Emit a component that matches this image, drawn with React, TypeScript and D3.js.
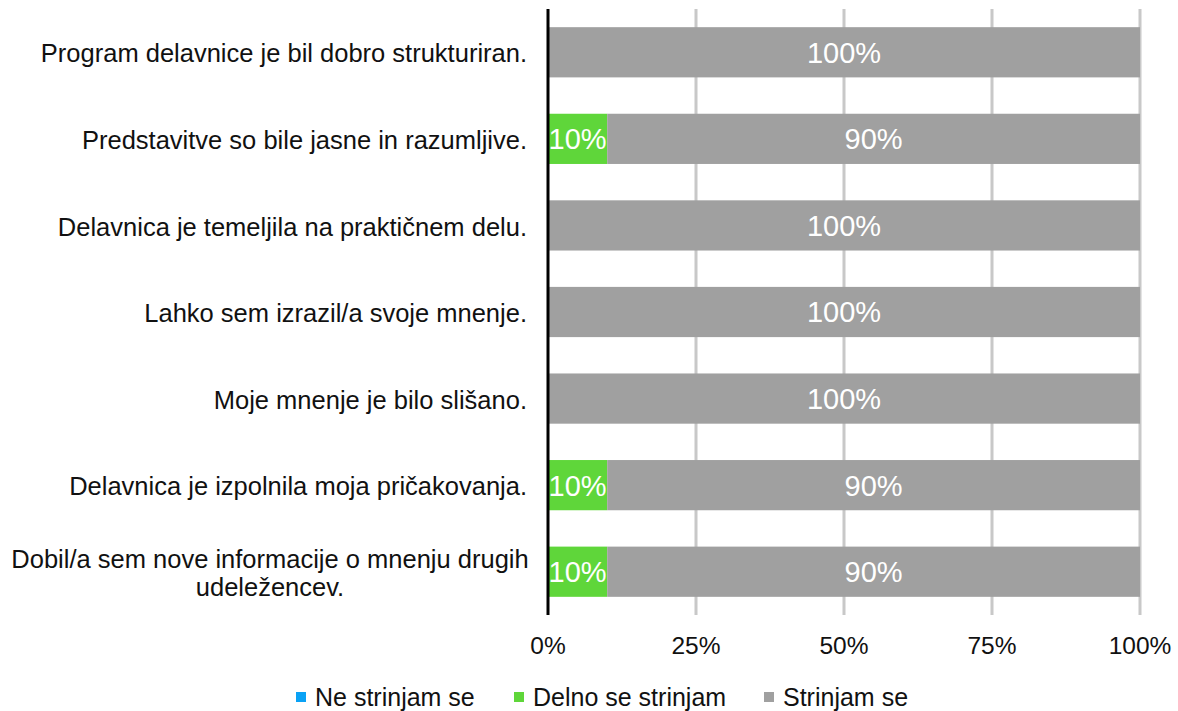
import * as d3 from "d3";

const categories = [
  "Program delavnice je bil dobro strukturiran.",
  "Predstavitve so bile jasne in razumljive.",
  "Delavnica je temeljila na praktičnem delu.",
  "Lahko sem izrazil/a svoje mnenje.",
  "Moje mnenje je bilo slišano.",
  "Delavnica je izpolnila moja pričakovanja.",
  "Dobil/a sem nove informacije o mnenju drugih udeležencev.",
];

// line breaks for the category labels
const categoryLines = [
  ["Program delavnice je bil dobro strukturiran."],
  ["Predstavitve so bile jasne in razumljive."],
  ["Delavnica je temeljila na praktičnem delu."],
  ["Lahko sem izrazil/a svoje mnenje."],
  ["Moje mnenje je bilo slišano."],
  ["Delavnica je izpolnila moja pričakovanja."],
  ["Dobil/a sem nove informacije o mnenju drugih", "udeležencev."],
];

const seriesNames = ["Ne strinjam se", "Delno se strinjam", "Strinjam se"];
const neStrinjam = [0, 0, 0, 0, 0, 0, 0];
const delnoStrinjam = [0, 10, 0, 0, 0, 10, 10];
const strinjam = [100, 90, 100, 100, 100, 90, 90];

const xTicks = [0, 25, 50, 75, 100];

const colors = ["#0aa2f5", "#5fd63a", "#a0a0a0"];

const W = 1178;
const H = 711;
const FONT = "'Liberation Sans', Arial, sans-serif";

export default function App() {
  const rows = categories.map((c, i) => ({
    cat: c,
    [seriesNames[0]]: neStrinjam[i],
    [seriesNames[1]]: delnoStrinjam[i],
    [seriesNames[2]]: strinjam[i],
  }));

  const stack = d3.stack<any>().keys(seriesNames);
  const layers = stack(rows);

  const x = d3.scaleLinear().domain([0, 100]).range([548, 1140]);
  const y = d3
    .scaleBand()
    .domain(categories)
    .range([9, 615])
    .paddingInner(0.42)
    .paddingOuter(0.21);

  const legendX = [296, 514, 764];

  return (
    <div style={{ position: "absolute", left: 0, top: 0 }}>
      <svg width={W} height={H} style={{ display: "block", fontFamily: FONT }}>
        <rect width={W} height={H} fill="#fff" />
        {/* gridlines */}
        {xTicks.slice(1).map((t) => (
          <line
            key={t}
            x1={x(t)}
            x2={x(t)}
            y1={y.range()[0]}
            y2={y.range()[1]}
            stroke="#c8c8c8"
            strokeWidth={3}
          />
        ))}
        {/* bars */}
        {layers.map((layer, li) =>
          layer.map((d, i) => {
            const w = x(d[1]) - x(d[0]);
            if (w <= 0) return null;
            return (
              <rect
                key={`${li}-${i}`}
                x={x(d[0])}
                y={y(categories[i])}
                width={w}
                height={y.bandwidth()}
                fill={colors[li]}
              />
            );
          })
        )}
        {/* bar labels */}
        {layers.map((layer, li) =>
          layer.map((d, i) => {
            const v = d[1] - d[0];
            if (v <= 0) return null;
            return (
              <text
                key={`l${li}-${i}`}
                x={(x(d[0]) + x(d[1])) / 2}
                y={(y(categories[i]) ?? 0) + y.bandwidth() / 2}
                dy="0.36em"
                textAnchor="middle"
                fill="#fff"
                fontSize={29}
              >
                {v}%
              </text>
            );
          })
        )}
        {/* y axis line */}
        <line
          x1={x(0)}
          x2={x(0)}
          y1={y.range()[0]}
          y2={y.range()[1]}
          stroke="#000"
          strokeWidth={3}
        />
        {/* category labels */}
        {categories.map((c, i) => {
          const lines = categoryLines[i];
          const cy = (y(c) ?? 0) + y.bandwidth() / 2 + 1;
          const lh = 28;
          const cx = lines.length > 1 ? 270 : 527;
          return (
            <text
              key={c}
              x={cx}
              textAnchor={lines.length > 1 ? "middle" : "end"}
              fontSize={25.5}
              fill="#111"
            >
              {lines.map((ln, k) => (
                <tspan
                  key={k}
                  x={cx}
                  y={cy + (k - (lines.length - 1) / 2) * lh}
                  dy="0.36em"
                >
                  {ln}
                </tspan>
              ))}
            </text>
          );
        })}
        {/* x tick labels */}
        {xTicks.map((t) => (
          <text key={t} x={x(t)} y={654} textAnchor="middle" fontSize={24.5} fill="#111">
            {t}%
          </text>
        ))}
        {/* legend */}
        {seriesNames.map((s, i) => (
          <g key={s} transform={`translate(${legendX[i]},697)`}>
            <rect x={0} y={-5} width={10} height={10} fill={colors[i]} />
            <text x={19} y={0} dy="0.36em" fontSize={25} fill="#111">
              {s}
            </text>
          </g>
        ))}
      </svg>
    </div>
  );
}
